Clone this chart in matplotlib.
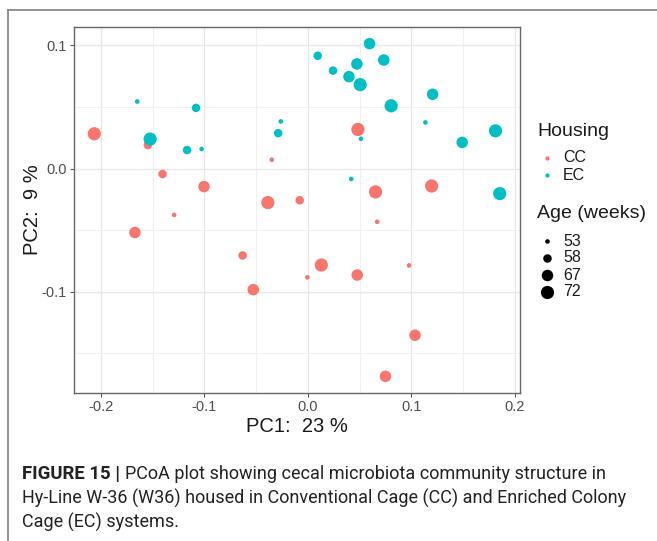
import numpy as np
import matplotlib
matplotlib.use("Agg")
import matplotlib.pyplot as plt
from matplotlib.lines import Line2D

plt.rcParams['font.family'] = ['Liberation Sans', 'DejaVu Sans']

# PCoA coordinates per bird sample
cc_pc1 = [-0.2065, -0.1547, -0.0349, -0.1405, -0.1004, -0.1293, -0.0387, -0.0079,
          0.0484, 0.0654, 0.1197, -0.1672, -0.0631, -0.0528, -0.0005, 0.0670,
          0.0130, 0.0477, 0.0978, 0.1036, 0.0750]
cc_pc2 = [0.0282, 0.0190, 0.0071, -0.0045, -0.0147, -0.0377, -0.0277, -0.0258,
          0.0317, -0.0190, -0.0142, -0.0520, -0.0706, -0.0984, -0.0884, -0.0433,
          -0.0784, -0.0865, -0.0787, -0.1354, -0.1688]
cc_age = [72, 58, 53, 58, 67, 53, 72, 58, 72, 72, 72, 67, 58, 67, 53, 53,
          72, 67, 53, 67, 67]

ec_pc1 = [-0.1650, -0.1081, -0.1525, -0.1168, -0.1027, -0.0262, -0.0287, 0.0596,
          0.0095, 0.0734, 0.0474, 0.0243, 0.0397, 0.0506, 0.1206, 0.0805,
          0.1136, 0.0513, 0.1814, 0.1492, 0.0419, 0.1855]
ec_pc2 = [0.0544, 0.0492, 0.0239, 0.0150, 0.0158, 0.0382, 0.0287, 0.1014,
          0.0916, 0.0881, 0.0849, 0.0795, 0.0746, 0.0681, 0.0603, 0.0509,
          0.0374, 0.0241, 0.0306, 0.0212, -0.0085, -0.0204]
ec_age = [53, 58, 72, 58, 53, 53, 58, 67, 58, 67, 67, 58, 67, 72, 67, 72,
          53, 53, 72, 67, 53, 72]

housing_levels = ['CC', 'EC']
age_levels = [53, 58, 67, 72]
pc1_var = 23
pc2_var = 9

col_cc = '#F8766D'
col_ec = '#00BFC4'
# marker diameter (pixels) for each age level
diam_px = {53: 4.6, 58: 8.5, 67: 11.5, 72: 13.2}

W, H = 657, 541


def marker_area(ages):
    return [(diam_px[a] * 0.72) ** 2 for a in ages]


def fx(px):
    return px / W


def fy(py):
    return 1 - py / H


fig = plt.figure(figsize=(W / 100, H / 100), dpi=100)
ax = fig.add_axes([fx(74), fy(393), 446 / W, 366 / H])

ax.scatter(cc_pc1, cc_pc2, s=marker_area(cc_age), c=col_cc, linewidths=0, zorder=3)
ax.scatter(ec_pc1, ec_pc2, s=marker_area(ec_age), c=col_ec, linewidths=0, zorder=3)
ax.margins(0.05)

ax.set_xticks([-0.2, -0.1, 0.0, 0.1, 0.2])
ax.set_xticklabels(['-0.2', '-0.1', '0.0', '0.1', '0.2'])
ax.set_yticks([-0.1, 0.0, 0.1])
ax.set_yticklabels(['-0.1', '0.0', '0.1'])
ax.set_xticks(np.arange(-0.2, 0.21, 0.05), minor=True)
ax.set_yticks(np.arange(-0.15, 0.11, 0.05), minor=True)
ax.grid(True, which='major', color='#e8e8e8', linewidth=1.0, zorder=0)
ax.grid(True, which='minor', color='#f0f0f0', linewidth=0.8, zorder=0)
ax.set_axisbelow(True)
ax.tick_params(which='minor', length=0)
ax.tick_params(which='major', length=3, width=0.8, color='#555555',
               labelsize=10.5, labelcolor='#4d4d4d', pad=2)
for sp in ax.spines.values():
    sp.set_color('#666666')
    sp.set_linewidth(1.0)

ax.set_xlabel(f'PC1:  {pc1_var} %', fontsize=14.5, color='#1a1a1a', labelpad=2)
ax.set_ylabel(f'PC2:  {pc2_var} %', fontsize=14.5, color='#1a1a1a', labelpad=0)

# legend: Housing (colour) and Age (size)
title_kw = dict(fontsize=14, color='#1a1a1a', va='center', ha='left')
label_kw = dict(fontsize=11.5, color='#1a1a1a', va='center', ha='left')

fig.text(fx(537), fy(131), 'Housing', **title_kw)
for i, (lab, col) in enumerate(zip(housing_levels, [col_cc, col_ec])):
    y = fy(158 + 17 * i)
    fig.add_artist(Line2D([fx(547)], [y], ls='none', marker='o', ms=3.0,
                          mfc=col, mec='none', transform=fig.transFigure))
    fig.text(fx(563), y, lab, **label_kw)

fig.text(fx(537), fy(214), 'Age (weeks)', **title_kw)
for i, a in enumerate(age_levels):
    y = fy(241 + 17 * i)
    fig.add_artist(Line2D([fx(547)], [y], ls='none', marker='o',
                          ms=diam_px[a] * 0.72, mfc='black', mec='none',
                          transform=fig.transFigure))
    fig.text(fx(563), y, str(a), **label_kw)

# outer frame lines
fig.add_artist(Line2D([fx(8), fx(8)], [0, fy(10)], color='#8a8a8a',
                      lw=1.3, transform=fig.transFigure))
fig.add_artist(Line2D([fx(8), 1], [fy(10), fy(10)], color='#8a8a8a',
                      lw=1.3, transform=fig.transFigure))

# caption
cap_font = ['Roboto', 'Liberation Sans', 'DejaVu Sans']
cap_size = 13.0
t_bold = fig.text(fx(22), fy(479), 'FIGURE 15 | ', fontsize=cap_size + 0.4,
                  fontweight='bold', family=cap_font, color='#222222', va='baseline')
fig.canvas.draw()
bb = t_bold.get_window_extent()
fig.text(bb.x1 / W, fy(479),
         'PCoA plot showing cecal microbiota community structure in',
         fontsize=cap_size, family=cap_font, color='#222222', va='baseline')
fig.text(fx(22), fy(504),
         'Hy-Line W-36 (W36) housed in Conventional Cage (CC) and Enriched Colony',
         fontsize=cap_size, family=cap_font, color='#222222', va='baseline')
fig.text(fx(22), fy(528), 'Cage (EC) systems.',
         fontsize=cap_size, family=cap_font, color='#222222', va='baseline')

fig.savefig('out.png', dpi=100)
